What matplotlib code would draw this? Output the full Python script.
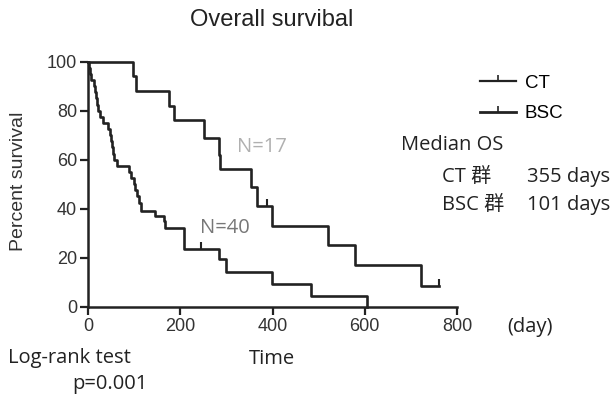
import matplotlib
matplotlib.use("Agg")
import matplotlib.pyplot as plt
from matplotlib.lines import Line2D

# CT group (N=17): step times (days) and percent survival
ct_time = [0, 97, 105, 176, 187, 252, 283, 287, 353, 366, 399, 521, 578, 722, 760]
ct_surv = [100, 94, 88, 82, 76, 69, 62, 56, 49, 41, 33, 25, 17, 8.3, 8.3]
ct_cens_t = [389, 760]
ct_cens_s = [41, 8.3]

# BSC group (N=40)
bsc_time = [0, 2, 4, 7, 12, 15, 17, 19, 22, 26, 33, 44, 48, 50, 52, 54, 57, 62,
            88, 93, 99, 102, 106, 110, 114, 145, 165, 168, 208, 284, 299, 399, 484, 604]
bsc_surv = [100, 97.5, 95, 92.5, 90, 87.5, 85, 82.5, 80, 77.5, 75, 72.5, 70, 67.5,
            65, 62.5, 60, 57.5, 55, 52.5, 50, 47.5, 45, 42.5, 39, 37, 35, 32, 23.5,
            19.5, 14, 9.3, 4.5, 0]
bsc_cens_t = [244]
bsc_cens_s = [23.5]

x_ticks = [0, 200, 400, 600, 800]
y_ticks = [0, 20, 40, 60, 80, 100]

W, H = 614, 407
fig = plt.figure(figsize=(W / 100, H / 100), dpi=100)
ax = fig.add_axes([88 / W, 1 - 306.7 / H, (457 - 88) / W, (306.7 - 61.7) / H])

lw = 1.9
ax.plot(ct_time, ct_surv, drawstyle="steps-post", color="#222222", lw=lw, clip_on=False)
ax.plot(bsc_time, bsc_surv, drawstyle="steps-post", color="#222222", lw=lw, clip_on=False)
ax.plot(ct_cens_t, ct_cens_s, ls="none", marker=2, ms=5, mew=1.5, color="#222222", clip_on=False)
ax.plot(bsc_cens_t, bsc_cens_s, ls="none", marker=2, ms=5, mew=1.5, color="#222222", clip_on=False)

ax.set_xlim(0, 800)
ax.set_ylim(0, 100)
ax.set_xticks(x_ticks)
ax.set_yticks(y_ticks)
ax.tick_params(direction="out", length=6, width=1.6, labelsize=13, color="#222222",
               labelcolor="#333333", pad=2)
for lab in ax.get_xticklabels() + ax.get_yticklabels():
    lab.set_family("Liberation Sans")
for s in ["top", "right"]:
    ax.spines[s].set_visible(False)
for s in ["left", "bottom"]:
    ax.spines[s].set_linewidth(1.8)
    ax.spines[s].set_color("#222222")

fig.text(18.5 / W, 1 - 181 / H, "Percent survival", fontsize=14, family="Liberation Sans",
         color="#333333", rotation=90, ha="center", va="center")

cjk = ["Open Sans", "Noto Sans CJK JP"]

# annotations
ax.text(322, 65, "N=17", fontsize=14.5, color="#b0b0b0", family="Open Sans", va="center")
ax.text(242, 32, "N=40", fontsize=14.5, color="#777777", family="Open Sans", va="center")

fig.text(272 / W, 1 - 20 / H, "Overall survibal", fontsize=17, family="Liberation Sans",
         ha="center", va="center", color="#222222")

handles = [Line2D([0], [0], color="#222222", lw=1.6, marker=2, ms=4, mew=1.2),
           Line2D([0], [0], color="#222222", lw=2.0, marker=2, ms=4, mew=1.2)]
leg = fig.legend(handles, ["CT", "BSC"], loc="upper left", bbox_to_anchor=(463 / W, 1 - 58 / H),
                 frameon=False, handlelength=1.9, handletextpad=0.5,
                 labelspacing=0.7, prop={"family": "Liberation Sans", "size": 13.5})

tkw = dict(fontsize=14.5, family=cjk, va="center", color="#222222")
fig.text(401 / W, 1 - 145 / H, "Median OS", **tkw)
fig.text(442 / W, 1 - 177 / H, "CT 群", **tkw)
fig.text(527 / W, 1 - 177 / H, "355 days", **tkw)
fig.text(442 / W, 1 - 205 / H, "BSC 群", **tkw)
fig.text(527 / W, 1 - 205 / H, "101 days", **tkw)

fig.text(507 / W, 1 - 327 / H, "(day)", **tkw)
fig.text(272 / W, 1 - 359 / H, "Time", ha="center", **tkw)
fig.text(8 / W, 1 - 358 / H, "Log-rank test", **tkw)
fig.text(72 / W, 1 - 384 / H, "p=0.001", **tkw)

fig.savefig("out.png", dpi=100, facecolor="white")
